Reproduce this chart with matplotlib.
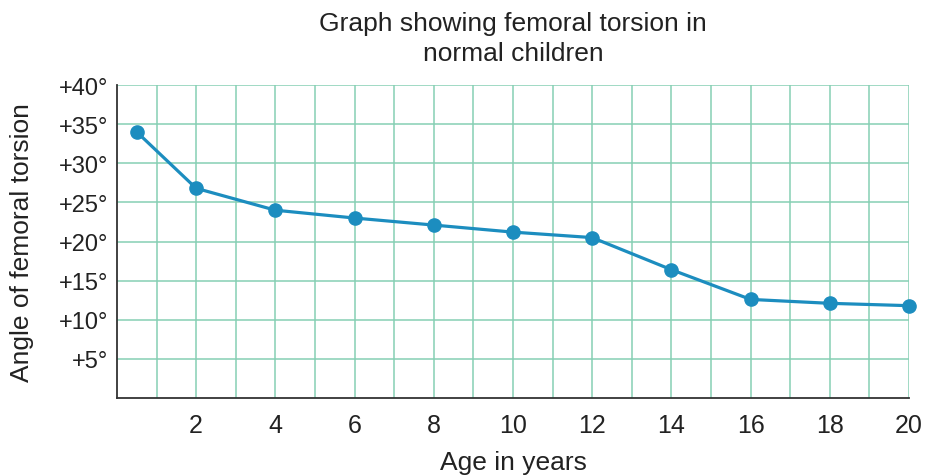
import numpy as np
import matplotlib.pyplot as plt

plt.rcParams['font.family'] = ['Liberation Sans', 'DejaVu Sans']

ages = [0.5, 2, 4, 6, 8, 10, 12, 14, 16, 18, 20]
torsion = [34.0, 26.8, 24.0, 23.0, 22.1, 21.2, 20.5, 16.4, 12.6, 12.1, 11.8]
x_ticks = [2, 4, 6, 8, 10, 12, 14, 16, 18, 20]
y_ticks = [5, 10, 15, 20, 25, 30, 35, 40]
y_labels = ['+5°', '+10°', '+15°', '+20°', '+25°', '+30°', '+35°', '+40°']

fig = plt.figure(figsize=(9.28, 4.77), dpi=100)
ax = fig.add_axes([0.126, 0.1635, 0.8535, 0.6562])

grid_col = '#86cfb4'
for xv in np.arange(1, 21):
    ax.axvline(xv, color=grid_col, lw=1.1, zorder=1)
for yv in y_ticks:
    ax.axhline(yv, color=grid_col, lw=1.1, zorder=1)

ax.plot(ages, torsion, color='#1c8dbf', lw=2.3, marker='o', ms=9.5,
        zorder=3, clip_on=False)

ax.set_xlim(0, 20)
ax.set_ylim(0, 40)
ax.set_xticks(x_ticks)
ax.set_yticks(y_ticks)
ax.set_yticklabels(y_labels)
ax.tick_params(length=0, colors='#222222')
ax.tick_params(axis='y', pad=6, labelsize=17)
ax.tick_params(axis='x', pad=11, labelsize=18)

for s in ['top', 'right']:
    ax.spines[s].set_visible(False)
for s in ['left', 'bottom']:
    ax.spines[s].set_color('#333333')
    ax.spines[s].set_linewidth(1.3)

ax.set_xlabel('Age in years', fontsize=19, color='#222222', labelpad=9)
ax.set_ylabel('Angle of femoral torsion', fontsize=19, color='#222222', labelpad=18)
fig.text(0.553, 0.918, 'Graph showing femoral torsion in\nnormal children',
         ha='center', va='center', fontsize=19, color='#222222', linespacing=1.3)

fig.savefig('out.png', dpi=100)
